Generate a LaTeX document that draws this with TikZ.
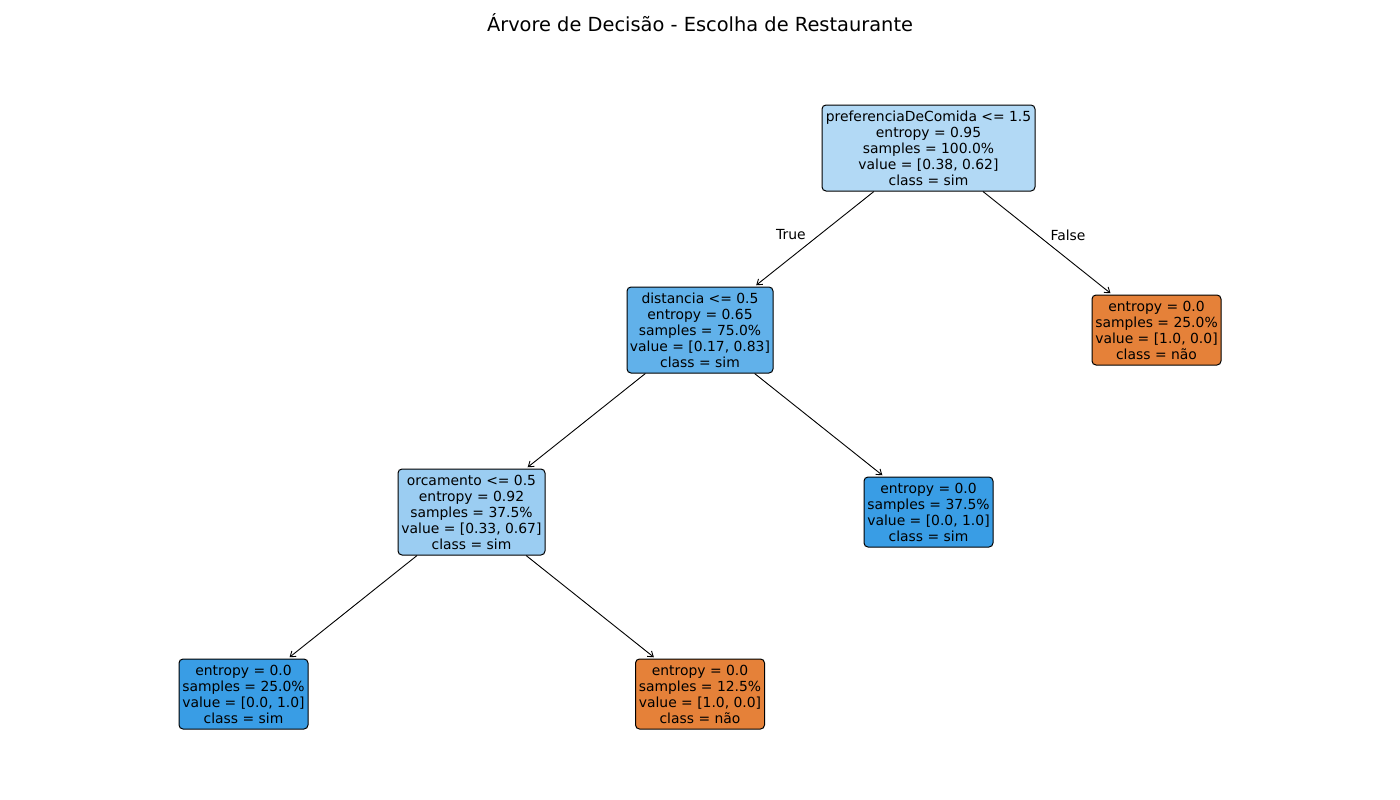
\documentclass[tikz,border=0pt]{standalone}
\usepackage{fontspec}
\setmainfont{DejaVu Sans}
\usetikzlibrary{arrows.meta}
\definecolor{cRoot}{RGB}{178,217,245}
\definecolor{cDist}{RGB}{97,177,234}
\definecolor{cOrc}{RGB}{155,205,242}
\definecolor{cBlue}{RGB}{57,157,229}
\definecolor{cOrange}{RGB}{229,129,57}
\tikzset{
  tnode/.style={draw=black, line width=1pt, rounded corners=4pt, align=center, inner sep=2pt,
    font=\fontsize{13.9}{16}\selectfont},
  split/.style={tnode, minimum height=86pt},
  leaf/.style={tnode, minimum width=129pt, minimum height=70pt},
  edge/.style={line width=0.9pt, -{Straight Barb[length=5pt,width=7pt]}, shorten >=2pt},
  elabel/.style={font=\fontsize{13.9}{16}\selectfont}
}
\begin{document}
\begin{tikzpicture}[x=1pt,y=-1pt]
\useasboundingbox (0,0) rectangle (1400,800);
\node[font=\fontsize{19.4}{22}\selectfont] (title) at (700,23) {Árvore de Decisão - Escolha de Restaurante};
\node[split, fill=cRoot, minimum width=213pt] (root) at (928.5,148) {preferenciaDeComida <= 1.5\\entropy = 0.95\\samples = 100.0\%\\value = [0.38, 0.62]\\class = sim};
\node[split, fill=cDist, minimum width=146pt] (dist) at (700,330) {distancia <= 0.5\\entropy = 0.65\\samples = 75.0\%\\value = [0.17, 0.83]\\class = sim};
\node[leaf, fill=cOrange] (lf1) at (1156.5,330) {entropy = 0.0\\samples = 25.0\%\\value = [1.0, 0.0]\\class = não};
\node[split, fill=cOrc, minimum width=147pt] (orc) at (471.5,512) {orcamento <= 0.5\\entropy = 0.92\\samples = 37.5\%\\value = [0.33, 0.67]\\class = sim};
\node[leaf, fill=cBlue] (lf2) at (928.5,512) {entropy = 0.0\\samples = 37.5\%\\value = [0.0, 1.0]\\class = sim};
\node[leaf, fill=cBlue] (lf3) at (243.5,694) {entropy = 0.0\\samples = 25.0\%\\value = [0.0, 1.0]\\class = sim};
\node[leaf, fill=cOrange] (lf4) at (700,694) {entropy = 0.0\\samples = 12.5\%\\value = [1.0, 0.0]\\class = não};
\draw[edge] (root) -- (dist);
\draw[edge] (root) -- (lf1);
\draw[edge] (dist) -- (orc);
\draw[edge] (dist) -- (lf2);
\draw[edge] (orc) -- (lf3);
\draw[edge] (orc) -- (lf4);
\node[elabel] (ltrue) at (791,235) {True};
\node[elabel] (lfalse) at (1068,235) {False};
\end{tikzpicture}
\end{document}
